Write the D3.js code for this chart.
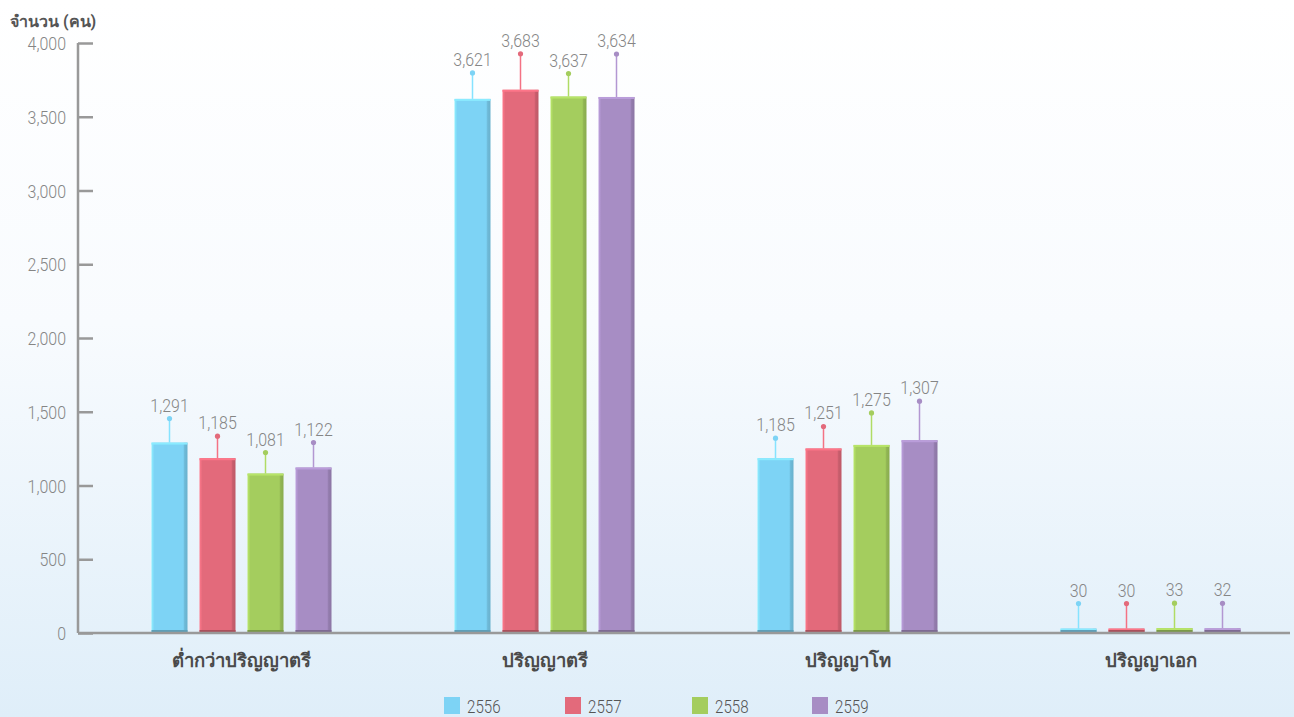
<!DOCTYPE html>
<html>
<head>
<meta charset="utf-8">
<script src="https://cdn.jsdelivr.net/npm/d3@7/dist/d3.min.js"></script>
<style>
  html, body { margin: 0; padding: 0; }
  body { width: 1294px; height: 717px; overflow: hidden; }
  svg text { font-family: Roboto, "Noto Sans", "DejaVu Sans", sans-serif; }
</style>
</head>
<body>
<svg id="chart" width="1294" height="717"></svg>
<script>
// Education levels and yearly headcounts
const categories = ["ต่ำกว่าปริญญาตรี", "ปริญญาตรี", "ปริญญาโท", "ปริญญาเอก"];
const years = ["2556", "2557", "2558", "2559"];
const values2556 = [1291, 3621, 1185, 30];
const values2557 = [1185, 3683, 1251, 30];
const values2558 = [1081, 3637, 1275, 33];
const values2559 = [1122, 3634, 1307, 32];
const yTicks = [0, 500, 1000, 1500, 2000, 2500, 3000, 3500, 4000];
const yTitle = "จำนวน (คน)";

// Leader-line lengths (px) above each bar, per year, per category
const leader2556 = [24, 26, 20, 25];
const leader2557 = [22, 36, 22, 25];
const leader2558 = [21, 23, 32, 25];
const leader2559 = [25, 43, 39, 25];

const colors = ["#7dd3f5", "#e36a7b", "#a4cd5e", "#a78dc4"];
const series = [values2556, values2557, values2558, values2559];
const leaders = [leader2556, leader2557, leader2558, leader2559];

const svg = d3.select("#chart");
const defs = svg.append("defs");

// Narrow numeric text: Roboto squeezed horizontally
function numText(sel, x, y, anchor, size, fill, str) {
  return sel.append("text")
    .attr("transform", `translate(${x},${y}) scale(0.84,1)`)
    .attr("text-anchor", anchor)
    .attr("font-size", size).attr("font-weight", 300).attr("fill", fill)
    .text(str);
}

// Background wash
const bg = defs.append("linearGradient").attr("id", "bg")
  .attr("x1", 0).attr("y1", 0).attr("x2", 0).attr("y2", 1);
bg.append("stop").attr("offset", "0%").attr("stop-color", "#ffffff");
bg.append("stop").attr("offset", "45%").attr("stop-color", "#f8fbfe");
bg.append("stop").attr("offset", "100%").attr("stop-color", "#dfeef9");
svg.append("rect").attr("width", 1294).attr("height", 717).attr("fill", "url(#bg)");

// Bar shading: light left edge, dark right edge
colors.forEach((c, i) => {
  const g = defs.append("linearGradient").attr("id", "bar" + i)
    .attr("x1", 0).attr("y1", 0).attr("x2", 1).attr("y2", 0);
  const base = d3.color(c);
  g.append("stop").attr("offset", "0%").attr("stop-color", base.brighter(0.35));
  g.append("stop").attr("offset", "8%").attr("stop-color", c);
  g.append("stop").attr("offset", "88%").attr("stop-color", c);
  g.append("stop").attr("offset", "92%").attr("stop-color", base.darker(0.35));
  g.append("stop").attr("offset", "100%").attr("stop-color", base.darker(0.5));
});

const y0 = 633, yTop = 43;
const y = d3.scaleLinear().domain([0, 4000]).range([y0, yTop]);
const x = d3.scaleBand().domain(categories).range([90, 1302]);
const groupW = 180;
const xs = d3.scaleBand().domain(years).range([0, groupW]).paddingInner(0.25);
const groupOffset = (x.bandwidth() - groupW) / 2;

// Y axis
const yAxis = d3.axisRight(y).tickValues(yTicks).tickSize(15).tickFormat("");
const ya = svg.append("g").attr("transform", "translate(78,0)").call(yAxis);
ya.select(".domain").attr("stroke", "#999").attr("stroke-width", 2.5)
  .attr("d", `M0,${yTop}V${y0}`);
ya.selectAll(".tick line").attr("stroke", "#999").attr("stroke-width", 2.5);

const yLabels = svg.append("g");
yTicks.forEach(t => numText(yLabels, 66, y(t) + 7, "end", 19, "#858585", d3.format(",")(t)));

svg.append("text").attr("x", 10).attr("y", 27)
  .attr("font-size", 16).attr("font-weight", "bold").attr("fill", "#555")
  .text(yTitle);

// Bars
const groups = svg.append("g").selectAll("g").data(categories).join("g")
  .attr("transform", d => `translate(${x(d) + groupOffset},0)`);

groups.each(function (cat, ci) {
  const g = d3.select(this);
  years.forEach((yr, si) => {
    const v = series[si][ci];
    const bx = xs(yr), bw = xs.bandwidth();
    const top = y(v);
    const cx = bx + bw / 2;
    const base = d3.color(colors[si]);
    g.append("rect").attr("x", bx).attr("y", top)
      .attr("width", bw).attr("height", y0 - top)
      .attr("fill", `url(#bar${si})`);
    g.append("rect").attr("x", bx).attr("y", top)
      .attr("width", bw).attr("height", Math.min(2, y0 - top))
      .attr("fill", base.brighter(0.3));
    g.append("rect").attr("x", bx).attr("y", y0 - 3)
      .attr("width", bw).attr("height", 3)
      .attr("fill", base.darker(0.8));
    // leader + dot + value
    const tip = top - leaders[si][ci];
    g.append("line").attr("x1", cx).attr("x2", cx)
      .attr("y1", top).attr("y2", tip)
      .attr("stroke", base.brighter(0.2)).attr("stroke-width", 1.5);
    g.append("circle").attr("cx", cx).attr("cy", tip).attr("r", 2.6)
      .attr("fill", colors[si]);
    numText(g, cx, tip - 7, "middle", 19, "#858585", d3.format(",")(v));
  });
});

// X baseline and category labels
svg.append("line").attr("x1", 78).attr("x2", 1290).attr("y1", y0).attr("y2", y0)
  .attr("stroke", "#999").attr("stroke-width", 2.5);

svg.append("g").selectAll("text").data(categories).join("text")
  .attr("x", d => x(d) + x.bandwidth() / 2)
  .attr("y", 667)
  .attr("text-anchor", "middle")
  .attr("font-size", 18.5).attr("font-weight", "bold").attr("fill", "#4a4a4a")
  .text(d => d);

// Legend
const legendX = [444, 565, 692, 812];
const lg = svg.append("g").selectAll("g").data(years).join("g")
  .attr("transform", (d, i) => `translate(${legendX[i]},697)`);
lg.append("rect").attr("width", 16).attr("height", 17)
  .attr("fill", (d, i) => colors[i]);
lg.each(function (d) {
  numText(d3.select(this), 23, 15.5, "start", 18, "#555", d);
});
</script>
</body>
</html>
